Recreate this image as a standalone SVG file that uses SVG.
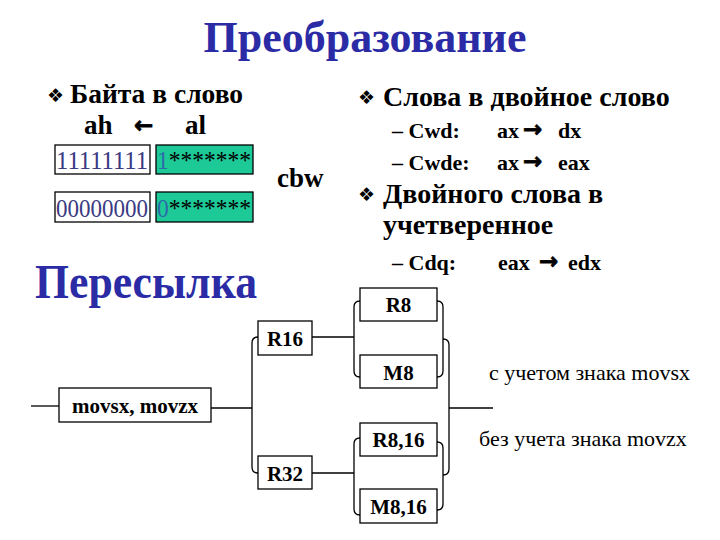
<svg xmlns="http://www.w3.org/2000/svg" width="720" height="540" viewBox="0 0 720 540">
<style>
text{font-family:'Liberation Serif','Times New Roman',serif;fill:#000}
.b{font-weight:bold}
.h{fill:#2b2ba6;font-weight:bold}
.sym{font-family:'DejaVu Sans',sans-serif}
.ar{font-family:'DejaVu Sans',sans-serif;font-weight:bold;font-size:23px;stroke:#000;stroke-width:0.7}
.s2{font-size:22px;font-weight:bold}
.box{fill:#fff;stroke:#000;stroke-width:1.3}
.g{fill:#1ec998;stroke:#000;stroke-width:1.3}
.ln{fill:none;stroke:#000;stroke-width:1.3}
.dg{font-size:25px;fill:#3a3a82}
.nl{font-size:21px;font-weight:bold}
</style>
<rect width="720" height="540" fill="#fff"/>
<g id="title"><text class="h" x="365" y="52" font-size="44" text-anchor="middle">Преобразование</text></g>

<g id="left-text">
<text class="sym" x="47" y="102" font-size="19">❖</text>
<text class="b" x="70" y="103" font-size="27.5">Байта в слово</text>
<text class="b" x="84" y="134" font-size="27">ah</text>
<text class="ar" x="134" y="133">←</text>
<text class="b" x="185" y="134" font-size="27">al</text>
</g>

<g id="byte1">
<rect class="box" x="55" y="145" width="95" height="29"/>
<rect class="g" x="156" y="145" width="97" height="29"/>
<text class="dg" x="56" y="169" textLength="92" lengthAdjust="spacingAndGlyphs">11111111</text>
<text class="dg" x="157" y="169" textLength="94" lengthAdjust="spacingAndGlyphs"><tspan fill="#2d6aa8">1</tspan><tspan fill="#000">*******</tspan></text>
</g>
<g id="byte2">
<rect class="box" x="55" y="192" width="95" height="30"/>
<rect class="g" x="156" y="192" width="97" height="30"/>
<text class="dg" x="56" y="217" textLength="92" lengthAdjust="spacingAndGlyphs">00000000</text>
<text class="dg" x="157" y="217" textLength="94" lengthAdjust="spacingAndGlyphs"><tspan fill="#2d6aa8">0</tspan><tspan fill="#000">*******</tspan></text>
</g>
<g id="cbw"><text class="b" x="277" y="187" font-size="27">cbw</text></g>

<g id="right-text">
<text class="sym" x="358" y="104" font-size="19">❖</text>
<text class="b" x="383" y="106" font-size="28">Слова в двойное слово</text>
<text class="s2" x="392" y="138">– Cwd:</text>
<text class="s2" x="497" y="138">ax</text>
<text class="ar" x="523" y="137">→</text>
<text class="s2" x="558" y="138">dx</text>
<text class="s2" x="392" y="170">– Cwde:</text>
<text class="s2" x="497" y="170">ax</text>
<text class="ar" x="523" y="169">→</text>
<text class="s2" x="558" y="170">eax</text>
<text class="sym" x="358" y="201" font-size="19">❖</text>
<text class="b" x="383" y="203" font-size="28">Двойного слова в</text>
<text class="b" x="383" y="234" font-size="28">учетверенное</text>
<text class="s2" x="392" y="270">– Cdq:</text>
<text class="s2" x="498" y="270">eax</text>
<text class="ar" x="539" y="269">→</text>
<text class="s2" x="568" y="270">edx</text>
</g>

<g id="peresylka"><text class="h" x="35" y="298" font-size="49" textLength="222" lengthAdjust="spacingAndGlyphs">Пересылка</text></g>

<g id="connectors">
<path class="ln" d="M31 406H59"/>
<path class="ln" d="M211 408H252"/>
<path class="ln" d="M258 337Q252 337 252 343V467Q252 473 258 473"/>
<path class="ln" d="M312 337H354"/>
<path class="ln" d="M312 473H354"/>
<path class="ln" d="M360 301Q354 301 354 307V371Q354 377 360 377"/>
<path class="ln" d="M360 438Q354 438 354 444V509Q354 515 360 515"/>
<path class="ln" d="M437 301Q443 301 443 307V371Q443 377 437 377"/>
<path class="ln" d="M437 442Q443 442 443 448V504Q443 510 437 510"/>
<path class="ln" d="M443 339Q449 339 449 345V469Q449 475 443 475"/>
<path class="ln" d="M449 408H493"/>
</g>

<g id="movsx"><rect class="box" x="59" y="388" width="152" height="34"/><text class="nl" x="135" y="413" text-anchor="middle">movsx, movzx</text></g>
<g id="r16"><rect class="box" x="258" y="321" width="54" height="34"/><text class="nl" x="285" y="346" text-anchor="middle">R16</text></g>
<g id="r32"><rect class="box" x="258" y="456" width="54" height="33"/><text class="nl" x="285" y="481" text-anchor="middle">R32</text></g>
<g id="r8"><rect class="box" x="360" y="288" width="77" height="33"/><text class="nl" x="398.5" y="312" text-anchor="middle">R8</text></g>
<g id="m8"><rect class="box" x="360" y="355" width="77" height="33"/><text class="nl" x="398.5" y="380" text-anchor="middle">M8</text></g>
<g id="r816"><rect class="box" x="360" y="423" width="77" height="33"/><text class="nl" x="398.5" y="447" text-anchor="middle">R8,16</text></g>
<g id="m816"><rect class="box" x="360" y="489" width="77" height="34"/><text class="nl" x="398.5" y="514" text-anchor="middle">M8,16</text></g>

<g id="labels">
<text x="489" y="380" font-size="22">с учетом знака movsx</text>
<text x="479" y="446" font-size="22">без учета знака movzx</text>
</g>
</svg>
